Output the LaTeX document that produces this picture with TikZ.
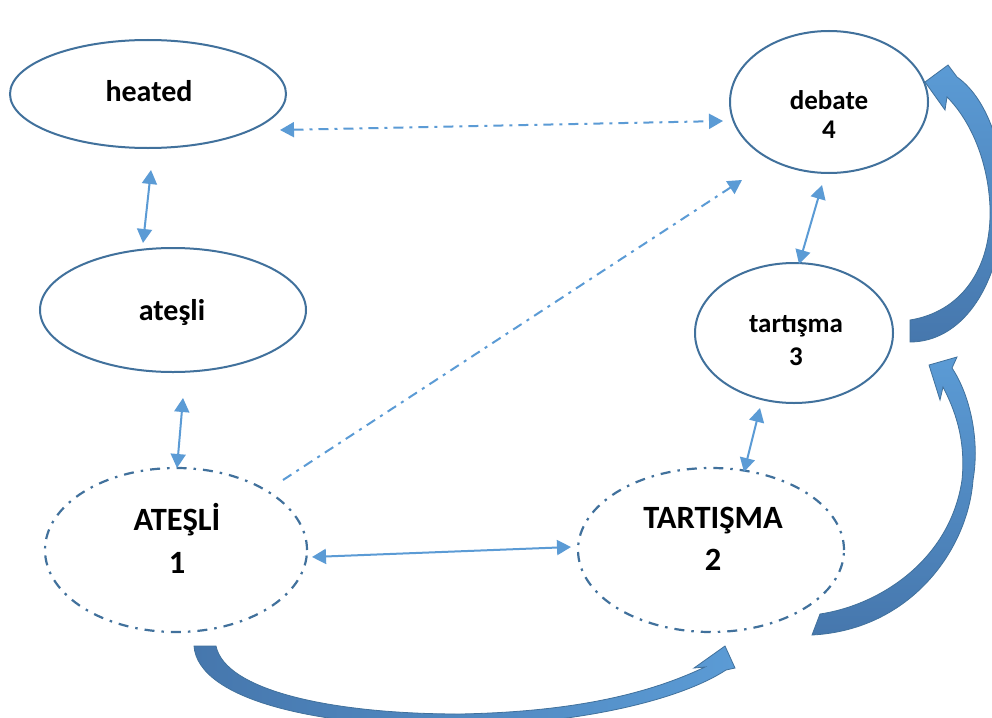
\documentclass[tikz,border=0pt]{standalone}
\usepackage{fontspec}
\setmainfont{Carlito}
\usetikzlibrary{arrows.meta,shapes.geometric}
\definecolor{edge}{HTML}{41719C}
\definecolor{lite}{HTML}{5B9BD5}
\definecolor{darkb}{HTML}{4677AD}
\begin{document}
\begin{tikzpicture}[x=1pt,y=-1pt,
  ell/.style={ellipse,draw=edge,line width=2pt,inner sep=0pt},
  dell/.style={ell,line width=2.2pt,dash pattern=on 10pt off 7pt on 2.5pt off 7pt},
  lbl/.style={anchor=base,inner sep=0pt},
  big/.style={lbl,font=\bfseries\fontsize{30}{36}\selectfont},
  small/.style={lbl,font=\bfseries\fontsize{27}{30}\selectfont},
  caps/.style={lbl,font=\bfseries\fontsize{32.5}{36}\selectfont},
  thinarr/.style={lite,line width=2pt,{Triangle[length=14pt,width=15pt]}-{Triangle[length=14pt,width=15pt]}},
  dd/.style={dash pattern=on 10pt off 6pt on 3pt off 6pt},
  blk/.style={draw=edge,line width=0.8pt}
]
\useasboundingbox (0,0) rectangle (992,717);
\clip (0,0) rectangle (992,717);
\fill[white] (0,0) rectangle (992,717);

% ellipses
\node[ell,minimum width=276pt,minimum height=108pt] (heated) at (148,94) {};
\node[ell,minimum width=266pt,minimum height=124pt] (atesli) at (173,310) {};
\node[dell,minimum width=262pt,minimum height=164pt] (ATES) at (176,550) {};
\node[dell,minimum width=266pt,minimum height=164pt] (TART) at (711,550) {};
\node[ell,minimum width=198pt,minimum height=142pt] (debate) at (829,102) {};
\node[ell,minimum width=198pt,minimum height=140pt] (tartisma) at (794,333) {};

% texts
\node[big] (heatedT) at (149,101) {heated};
\node[big] (atesliT) at (172,320) {ateşli};
\node[small] (debateT) at (829,109) {debate};
\node[small] (debate4) at (829,138) {4};
\node[small] (tartT) at (796,332) {tartışma};
\node[small] (tart3) at (796,365) {3};
\node[caps] (ATEST) at (177,530) {ATEŞLİ};
\node[caps] (ATES1) at (177,573) {1};
\node[caps] (TARTT) at (713,528) {TARTIŞMA};
\node[caps] (TART2) at (713,570) {2};

% connector ends
\coordinate (ha) at (151,170);
\coordinate (ah) at (143,243);
\coordinate (aA) at (183,398);
\coordinate (Aa) at (177,468);
\coordinate (AT) at (312,557);
\coordinate (TA) at (571,547);
\coordinate (Tt) at (744,472);
\coordinate (tT) at (760,408);
\coordinate (td) at (799,264);
\coordinate (dt) at (822,185);
\coordinate (hd) at (280,130);
\coordinate (dh) at (723,121);
\coordinate (Ad) at (283,480);
\coordinate (dA) at (742,180);

% thin arrows
\draw[thinarr] (ha) -- (ah);
\draw[thinarr] (aA) -- (Aa);
\draw[thinarr] (AT) -- (TA);
\draw[thinarr] (Tt) -- (tT);
\draw[thinarr] (td) -- (dt);
\draw[thinarr,dd] (hd) -- (dh);
\draw[lite,line width=2pt,dd,-{Triangle[length=14pt,width=15pt]}] (Ad) -- (dA);

% block arrow 1: ATESLI -> TARTISMA
\shade[left color=darkb,right color=lite] (194,646) .. controls (198,700) and (320,728) .. (460,726) .. controls (580,724) and (680,700) .. (726,670) -- (735,668) -- (725,646) -- (694,668) -- (705,667) .. controls (640,698) and (560,712) .. (460,714) .. controls (330,714) and (225,690) .. (216,646) -- cycle;
\draw[blk] (194,646) .. controls (198,700) and (320,728) .. (460,726) .. controls (580,724) and (680,700) .. (726,670) -- (735,668) -- (725,646) -- (694,668) -- (705,667) .. controls (640,698) and (560,712) .. (460,714) .. controls (330,714) and (225,690) .. (216,646) -- cycle;

% block arrow 2: TARTISMA -> tartisma
\shade[top color=lite,bottom color=darkb] (820,614) .. controls (880,605) and (950,560) .. (962,480) .. controls (966,440) and (955,410) .. (943,387) -- (940,400) -- (929,365) -- (957,357) -- (952,368) .. controls (970,395) and (980,440) .. (973,480) .. controls (968,550) and (910,630) .. (812,635) -- cycle;
\draw[blk] (820,614) .. controls (880,605) and (950,560) .. (962,480) .. controls (966,440) and (955,410) .. (943,387) -- (940,400) -- (929,365) -- (957,357) -- (952,368) .. controls (970,395) and (980,440) .. (973,480) .. controls (968,550) and (910,630) .. (812,635) -- cycle;

% block arrow 3: tartisma -> debate
\shade[top color=lite,bottom color=darkb] (910,320) .. controls (960,312) and (992,270) .. (990,207) .. controls (988,160) and (970,120) .. (947,97) -- (945,110) -- (925,82) -- (948,65) -- (957,77) .. controls (990,100) and (1008,160) .. (1003,215) .. controls (998,290) and (960,342) .. (910,342) -- cycle;
\draw[blk] (910,320) .. controls (960,312) and (992,270) .. (990,207) .. controls (988,160) and (970,120) .. (947,97) -- (945,110) -- (925,82) -- (948,65) -- (957,77) .. controls (990,100) and (1008,160) .. (1003,215) .. controls (998,290) and (960,342) .. (910,342) -- cycle;
\end{tikzpicture}
\end{document}
